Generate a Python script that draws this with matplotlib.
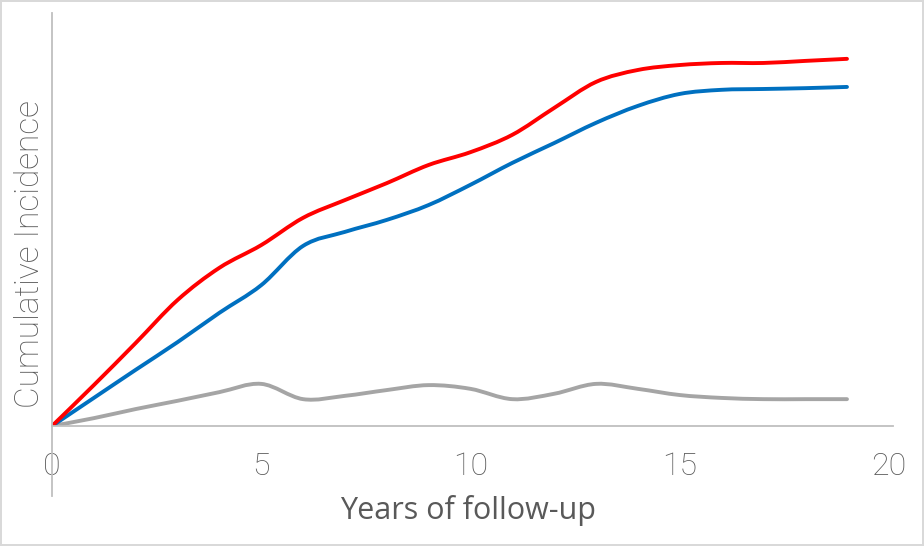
import numpy as np
import matplotlib.pyplot as plt
from matplotlib.path import Path
from matplotlib.patches import PathPatch

years = list(range(0, 20))
red_vals = [0, .099, .201, .305, .383, .438, .504, .547, .588, .632,
            .663, .705, .770, .833, .862, .874, .879, .879, .884, .889]
blue_vals = [0, .068, .136, .203, .274, .341, .436, .470, .499, .535,
             .584, .637, .685, .734, .775, .804, .814, .816, .818, .821]
gray_vals = [0, .019, .041, .061, .082, .102, .065, .073, .087, .099,
             .090, .065, .078, .102, .090, .075, .068, .065, .065, .065]

x_ticks = [0, 5, 10, 15, 20]
NARROW = ['Roboto', 'DejaVu Sans']
WIDE = ['Open Sans', 'DejaVu Sans']
TXT = '#595959'


def smooth_path(x, y):
    # excel-style smoothed line: cubic bezier through each point
    x = np.asarray(x, float)
    y = np.asarray(y, float)
    n = len(x)
    verts = [(x[0], y[0])]
    codes = [Path.MOVETO]
    for i in range(n - 1):
        p0 = (x[max(i - 1, 0)], y[max(i - 1, 0)])
        p1 = (x[i], y[i])
        p2 = (x[i + 1], y[i + 1])
        p3 = (x[min(i + 2, n - 1)], y[min(i + 2, n - 1)])
        c1 = (p1[0] + (p2[0] - p0[0]) / 6, p1[1] + (p2[1] - p0[1]) / 6)
        c2 = (p2[0] - (p3[0] - p1[0]) / 6, p2[1] - (p3[1] - p1[1]) / 6)
        verts += [c1, c2, p2]
        codes += [Path.CURVE4] * 3
    return Path(verts, codes)


fig = plt.figure(figsize=(9.24, 5.46), dpi=100)
fig.patch.set_edgecolor('#d9d9d9')
fig.patch.set_linewidth(1.5)
ax = fig.add_axes([52 / 924, 120 / 546, 841 / 924, 413 / 546])

for vals, col in [(gray_vals, '#a5a5a5'), (blue_vals, '#0070c0'), (red_vals, '#ff0000')]:
    ax.add_patch(PathPatch(smooth_path(years, vals), fill=False, edgecolor=col,
                           linewidth=2.8, capstyle='round', joinstyle='round'))

ax.set_xlim(0, 20.1)
ax.set_ylim(0, 1)
for s in ['top', 'right', 'left']:
    ax.spines[s].set_visible(False)
ax.spines['bottom'].set_color('#bfbfbf')
ax.spines['bottom'].set_linewidth(1.3)
ax.plot([0, 0], [-0.17, 1], transform=ax.transAxes, clip_on=False,
        color='#bfbfbf', linewidth=1.3)

ax.set_yticks([])
ax.set_xticks(x_ticks)
ax.set_xticklabels([str(t) for t in x_ticks], family=NARROW, fontweight='light',
                   fontsize=23, color=TXT)
ax.tick_params(axis='x', length=0, pad=19)

fig.text(468 / 924, 1 - 510 / 546, 'Years of follow-up', family=WIDE,
         fontsize=22, color=TXT, ha='center', va='center')
fig.text(30 / 924, 1 - 254 / 546, 'Cumulative Incidence', family=NARROW, fontweight='light',
         fontsize=24, color=TXT, ha='center', va='center', rotation=90)

fig.savefig('out.png', dpi=100)
